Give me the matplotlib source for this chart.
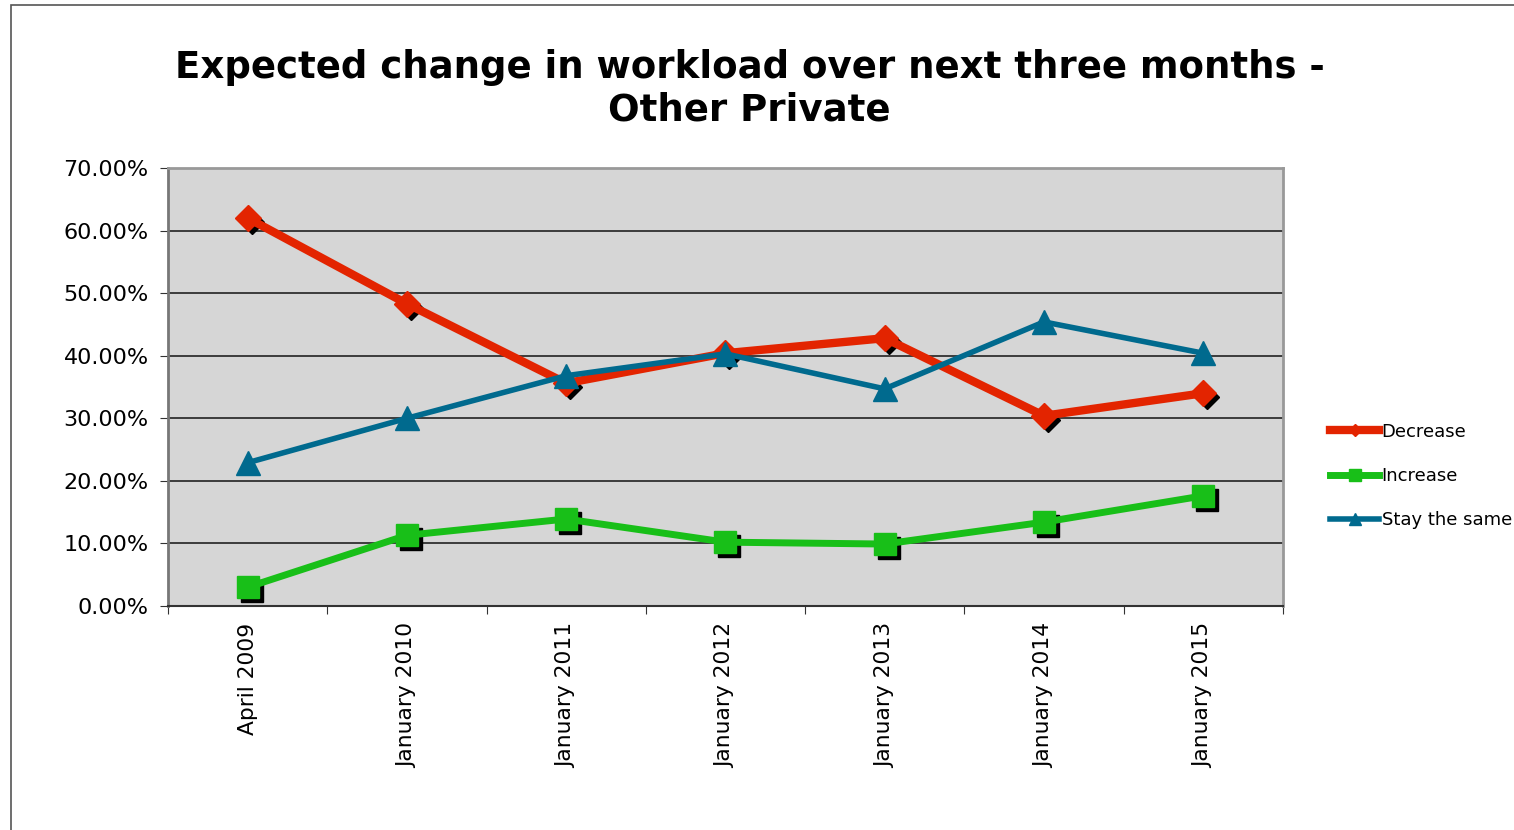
import matplotlib.pyplot as plt
import numpy as np
from matplotlib.patches import Rectangle
from matplotlib.ticker import FixedLocator, PercentFormatter
from matplotlib.transforms import offset_copy

plt.rcParams['font.family'] = ['DejaVu Sans']

categories = ['April 2009', 'January 2010', 'January 2011', 'January 2012',
              'January 2013', 'January 2014', 'January 2015']
decrease = [62.0, 48.3, 35.6, 40.4, 42.8, 30.4, 34.0]
increase = [3.0, 11.3, 13.9, 10.2, 9.9, 13.4, 17.6]
stay_same = [22.9, 30.0, 36.8, 40.3, 34.7, 45.4, 40.4]

red = '#E32400'
green = '#18BF18'
blue = '#006A8E'

fig = plt.figure(figsize=(15.14, 8.30), dpi=100)
# outer frame of the chart area
fig.patches.append(Rectangle((0.007, -0.01), 1.1, 1.004, transform=fig.transFigure,
                             fill=False, edgecolor='#555555', linewidth=1.2))

ax = fig.add_axes([0.111, 0.2699, 0.7363, 0.5277])
ax.set_facecolor('#D6D6D6')
x = np.arange(len(categories))

# shadow markers (offset a few pixels right/down)
sh = offset_copy(ax.transData, fig=fig, x=4, y=-4, units='dots')
ax.plot(x, decrease, linestyle='none', marker='D', markersize=12, color='black',
        transform=sh, zorder=2)
ax.plot(x, increase, linestyle='none', marker='s', markersize=16, color='black',
        transform=sh, zorder=2)

ax.plot(x, decrease, color=red, linewidth=6, marker='D', markersize=13,
        label='Decrease', zorder=4)
ax.plot(x, increase, color=green, linewidth=5, marker='s', markersize=16,
        label='Increase', zorder=3)
ax.plot(x, stay_same, color=blue, linewidth=4, marker='^', markersize=17,
        label='Stay the same', zorder=5)

ax.set_xlim(-0.5, len(categories) - 0.5)
ax.set_ylim(0, 70)
ax.yaxis.set_major_locator(FixedLocator(np.arange(0, 71, 10)))
ax.yaxis.set_major_formatter(PercentFormatter(decimals=2))
ax.grid(axis='y', color='#222222', linewidth=1.2, zorder=1)
ax.set_axisbelow(True)

ax.set_xticks(np.arange(-0.5, len(categories), 1.0))
ax.set_xticklabels([])
ax.set_xticks(x, minor=True)
ax.set_xticklabels(categories, minor=True, rotation=90, fontsize=15.7)
ax.tick_params(axis='x', which='minor', length=0, pad=12)
ax.tick_params(axis='x', which='major', length=6, direction='out', color='#333333')
ax.tick_params(axis='y', length=6, direction='out', labelsize=16, pad=8, color='#333333')

for side in ['top', 'right']:
    ax.spines[side].set_color('#999999')
    ax.spines[side].set_linewidth(2)
ax.spines['left'].set_color('#777777')
ax.spines['left'].set_linewidth(2)
ax.spines['bottom'].set_color('#333333')
ax.spines['bottom'].set_linewidth(1.5)

fig.text(0.495, 0.893, 'Expected change in workload over next three months -\nOther Private',
         ha='center', va='center', fontsize=26.7, fontweight='bold', linespacing=1.2)

leg = ax.legend(loc='center left', bbox_to_anchor=(1.028, 0.297), frameon=False,
                fontsize=13, handlelength=2.7, handletextpad=0.15, labelspacing=1.45,
                markerscale=0.5)

fig.savefig('out.png', dpi=100)
